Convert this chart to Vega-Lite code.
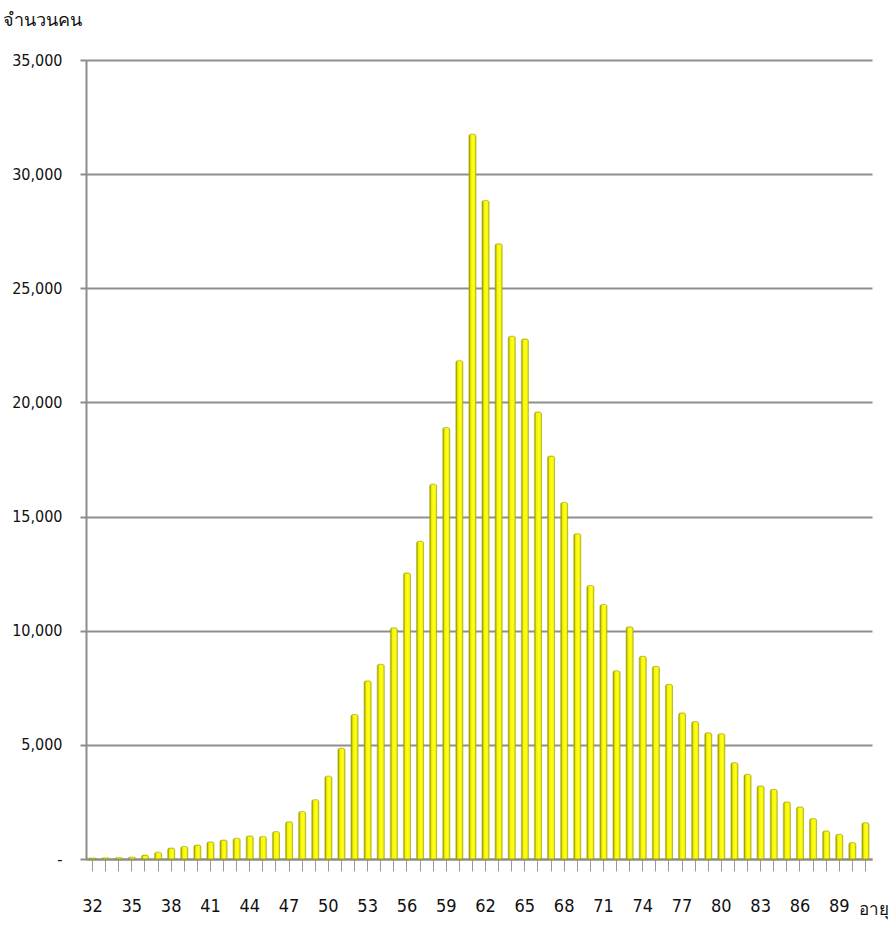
{
  "$schema": "https://vega.github.io/schema/vega-lite/v6.json",
  "width": 786,
  "height": 799,
  "autosize": {"type": "none"},
  "padding": {"left": 86, "top": 60, "right": 19, "bottom": 71},
  "background": "white",
  "config": {"view": {"stroke": null}},
  "data": {"values": [
    {"age": 32, "n": 40}, {"age": 33, "n": 50}, {"age": 34, "n": 60}, {"age": 35, "n": 80},
    {"age": 36, "n": 170}, {"age": 37, "n": 300}, {"age": 38, "n": 480}, {"age": 39, "n": 550},
    {"age": 40, "n": 610}, {"age": 41, "n": 750}, {"age": 42, "n": 830}, {"age": 43, "n": 910},
    {"age": 44, "n": 1010}, {"age": 45, "n": 990}, {"age": 46, "n": 1200}, {"age": 47, "n": 1630},
    {"age": 48, "n": 2080}, {"age": 49, "n": 2600}, {"age": 50, "n": 3630}, {"age": 51, "n": 4850},
    {"age": 52, "n": 6330}, {"age": 53, "n": 7800}, {"age": 54, "n": 8530}, {"age": 55, "n": 10130},
    {"age": 56, "n": 12530}, {"age": 57, "n": 13920}, {"age": 58, "n": 16420}, {"age": 59, "n": 18900},
    {"age": 60, "n": 21830}, {"age": 61, "n": 31750}, {"age": 62, "n": 28850}, {"age": 63, "n": 26950},
    {"age": 64, "n": 22900}, {"age": 65, "n": 22780}, {"age": 66, "n": 19580}, {"age": 67, "n": 17650},
    {"age": 68, "n": 15620}, {"age": 69, "n": 14250}, {"age": 70, "n": 11980}, {"age": 71, "n": 11150},
    {"age": 72, "n": 8250}, {"age": 73, "n": 10170}, {"age": 74, "n": 8880}, {"age": 75, "n": 8440},
    {"age": 76, "n": 7650}, {"age": 77, "n": 6400}, {"age": 78, "n": 6020}, {"age": 79, "n": 5530},
    {"age": 80, "n": 5490}, {"age": 81, "n": 4220}, {"age": 82, "n": 3710}, {"age": 83, "n": 3200},
    {"age": 84, "n": 3050}, {"age": 85, "n": 2500}, {"age": 86, "n": 2280}, {"age": 87, "n": 1770},
    {"age": 88, "n": 1230}, {"age": 89, "n": 1080}, {"age": 90, "n": 720}, {"age": 91, "n": 1590}
  ]},
  "mark": {
    "type": "bar",
    "cornerRadiusTopLeft": 2,
    "cornerRadiusTopRight": 2,
    "stroke": "#a5a500",
    "strokeWidth": 0.6,
    "fill": {
      "gradient": "linear",
      "x1": 0, "x2": 1, "y1": 0, "y2": 0,
      "stops": [
        {"offset": 0, "color": "#8a8a10"},
        {"offset": 0.3, "color": "#f5f500"},
        {"offset": 0.65, "color": "#ffff20"},
        {"offset": 1, "color": "#e6e600"}
      ]
    }
  },
  "encoding": {
    "x": {
      "field": "age",
      "type": "ordinal",
      "scale": {"paddingInner": 0.46, "paddingOuter": 0.23},
      "axis": {
        "title": "อายุ",
        "titleFont": "Noto Sans",
        "titleFontSize": 17,
        "titleFontWeight": "normal",
        "titleColor": "#111",
        "titleX": 787,
        "titleY": 50,
        "titleAlign": "center",
        "titleBaseline": "middle",
        "labelExpr": "(datum.value - 32) % 3 == 0 ? datum.label : ''",
        "labelOverlap": false,
        "labelAngle": 0,
        "labelFont": "DejaVu Sans Condensed, Roboto",
        "labelFontSize": 18,
        "labelColor": "#111",
        "labelPadding": 26,
        "labelDx": -7,
        "tickSize": 12,
        "tickColor": "#9a9a9a",
        "tickWidth": 1,
        "domainColor": "#8c8c8c",
        "domainWidth": 2
      }
    },
    "y": {
      "field": "n",
      "type": "quantitative",
      "scale": {"domain": [0, 35000]},
      "axis": {
        "title": "จำนวนคน",
        "titleAngle": 0,
        "titleX": -44,
        "titleY": -40,
        "titleAlign": "center",
        "titleBaseline": "middle",
        "titleFont": "Noto Sans",
        "titleFontSize": 18,
        "titleFontWeight": "normal",
        "titleColor": "#111",
        "values": [0, 5000, 10000, 15000, 20000, 25000, 30000, 35000],
        "labelExpr": "datum.value == 0 ? '-' : format(datum.value, ',')",
        "labelFont": "DejaVu Sans Condensed, Roboto",
        "labelFontSize": 16,
        "labelColor": "#111",
        "labelPadding": 18,
        "tickSize": 6,
        "tickColor": "#8c8c8c",
        "tickWidth": 2,
        "domainColor": "#8c8c8c",
        "domainWidth": 2,
        "grid": true,
        "gridColor": "#8f8f8f",
        "gridWidth": 2
      }
    }
  }
}
